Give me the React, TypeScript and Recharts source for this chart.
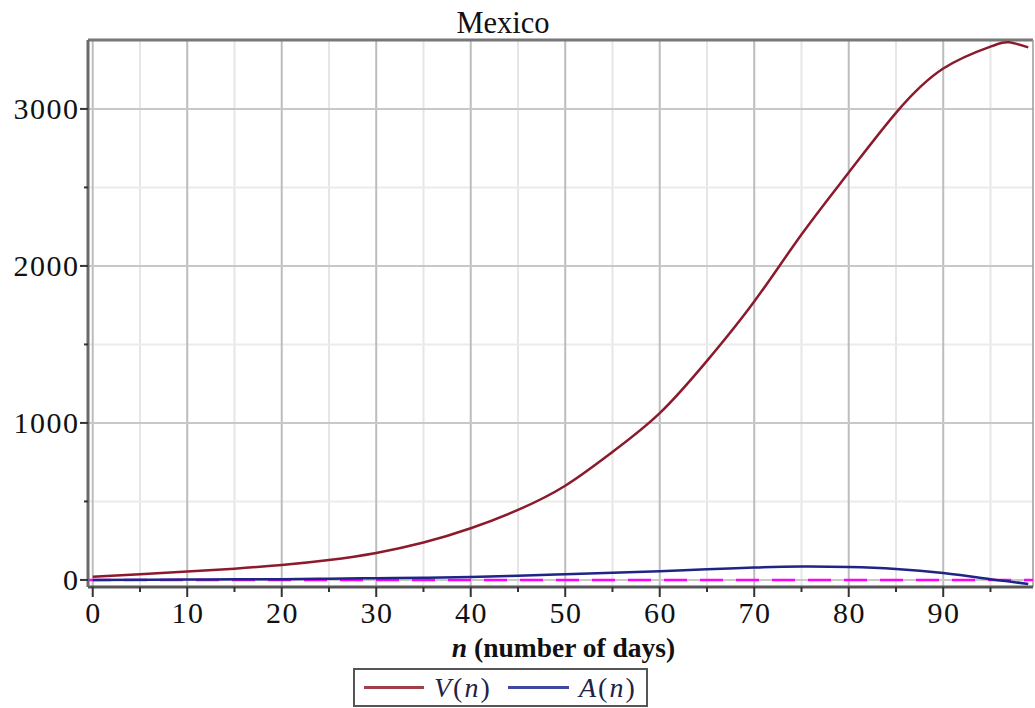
import React from 'react'
import { LineChart, Line, XAxis, YAxis, ReferenceLine } from 'recharts'

// day index and the two model curves
const days = [0, 5, 10, 15, 20, 25, 30, 35, 40, 45, 50, 55, 60, 65, 70, 75, 80, 85, 90, 95, 97, 99]
const vValues = [21, 36, 53, 72, 95, 127, 172, 238, 329, 446, 600, 815, 1062, 1395, 1773, 2200, 2595, 2975, 3257, 3397, 3424, 3392]
const aValues = [0, 1, 2, 4, 5, 8, 11, 14, 18, 27, 36, 45, 55, 68, 79, 85, 82, 70, 44, 5, -10, -26]

const xMajor = [0, 10, 20, 30, 40, 50, 60, 70, 80, 90]
const xMinor = [5, 15, 25, 35, 45, 55, 65, 75, 85, 95]
const yMajor = [0, 1000, 2000, 3000]
const yMinor = [500, 1500, 2500]

const X_DOMAIN: [number, number] = [-0.5, 99.5]
const Y_DOMAIN: [number, number] = [-45, 3439]

const RED = '#8B1A2C'
const BLUE = '#1E2585'
const FONT = '"Liberation Serif", "Times New Roman", serif'

const data = days.map((n, i) => ({ n, V: vValues[i], A: aValues[i] }))

function XTick(props: any) {
  const { x, y, payload } = props
  const major = payload.value % 10 === 0
  return (
    <g>
      <line x1={x} x2={x} y1={y} y2={y + (major ? 10 : 5)} stroke="#333" strokeWidth={2} />
      {major && (
        <text x={x + 0.75} y={y + 36} textAnchor="middle" fontFamily={FONT} fontSize={30} letterSpacing={1.5} fill="#111">
          {payload.value}
        </text>
      )}
    </g>
  )
}

function YTick(props: any) {
  const { x, y, payload } = props
  const major = payload.value % 1000 === 0
  return (
    <g>
      <line x1={x - (major ? 8 : 4)} x2={x} y1={y} y2={y} stroke="#333" strokeWidth={2} />
      {major && (
        <text x={x - 8.5} y={y} dy="0.35em" textAnchor="end" fontFamily={FONT} fontSize={30} letterSpacing={1.5} fill="#111">
          {payload.value}
        </text>
      )}
    </g>
  )
}

function XLabel(props: any) {
  const { viewBox } = props
  const cx = viewBox.x + viewBox.width / 2 + 3
  return (
    <text x={cx} y={viewBox.y + 70} textAnchor="middle" fontFamily={FONT} fontSize={27.5} fontWeight="bold" fill="#111">
      <tspan fontStyle="italic">n</tspan>
      <tspan> (number of days)</tspan>
    </text>
  )
}

export default function App() {
  return (
    <div style={{ position: 'absolute', left: 0, top: 0, width: 1035, height: 708, background: '#fff' }}>
      <div style={{ position: 'absolute', left: 403, top: 8, width: 200, textAlign: 'center', fontFamily: FONT, fontSize: 30.5, lineHeight: '30px', color: '#111' }}>
        Mexico
      </div>

      <LineChart width={1035} height={708} data={data} margin={{ top: 40, right: 2, bottom: 41, left: 0 }}>
        {xMinor.map(v => (
          <ReferenceLine key={'xm' + v} x={v} stroke="#e6e6e6" strokeWidth={2} />
        ))}
        {yMinor.map(v => (
          <ReferenceLine key={'ym' + v} y={v} stroke="#ebebeb" strokeWidth={2} />
        ))}
        {xMajor.map(v => (
          <ReferenceLine key={'xM' + v} x={v} stroke="#bdbdbd" strokeWidth={2} />
        ))}
        {yMajor.map(v => (
          <ReferenceLine key={'yM' + v} y={v} stroke="#c8c8c8" strokeWidth={2} />
        ))}
        <ReferenceLine y={Y_DOMAIN[1]} stroke="#777" strokeWidth={3} ifOverflow="visible" />
        <ReferenceLine x={X_DOMAIN[1]} stroke="#9a9a9a" strokeWidth={1.5} ifOverflow="visible" />

        <XAxis
          dataKey="n"
          type="number"
          domain={X_DOMAIN}
          ticks={[...xMajor, ...xMinor].sort((a, b) => a - b)}
          interval={0}
          height={80}
          tickSize={0}
          tickMargin={0}
          tickLine={false}
          axisLine={{ stroke: '#555', strokeWidth: 3 }}
          tick={<XTick />}
          label={<XLabel />}
          allowDataOverflow
        />
        <YAxis
          type="number"
          domain={Y_DOMAIN}
          ticks={[...yMajor, ...yMinor].sort((a, b) => a - b)}
          interval={0}
          width={88}
          tickSize={0}
          tickMargin={0}
          tickLine={false}
          axisLine={{ stroke: '#6a6a6a', strokeWidth: 3 }}
          tick={<YTick />}
          allowDataOverflow
        />

        <ReferenceLine y={0} stroke="#ff00ff" strokeWidth={2.5} strokeDasharray="23 13" />
        <Line type="natural" dataKey="V" stroke={RED} strokeWidth={2.5} dot={false} isAnimationActive={false} />
        <Line type="natural" dataKey="A" stroke={BLUE} strokeWidth={2.5} dot={false} isAnimationActive={false} />
      </LineChart>

      <div
        style={{
          position: 'absolute', left: 353, top: 668, width: 291, height: 35,
          border: '2px solid #555', background: '#fff',
          display: 'flex', alignItems: 'center', fontFamily: FONT, fontSize: 28, letterSpacing: 2, color: '#222244',
        }}
      >
        <span style={{ display: 'inline-block', width: 60, height: 3, background: '#a0404c', marginLeft: 9 }} />
        <span style={{ marginLeft: 10, width: 74 }}>
          <i>V</i>(<i>n</i>)
        </span>
        <span style={{ display: 'inline-block', width: 61, height: 3, background: '#4048a0' }} />
        <span style={{ marginLeft: 10 }}>
          <i>A</i>(<i>n</i>)
        </span>
      </div>
    </div>
  )
}
